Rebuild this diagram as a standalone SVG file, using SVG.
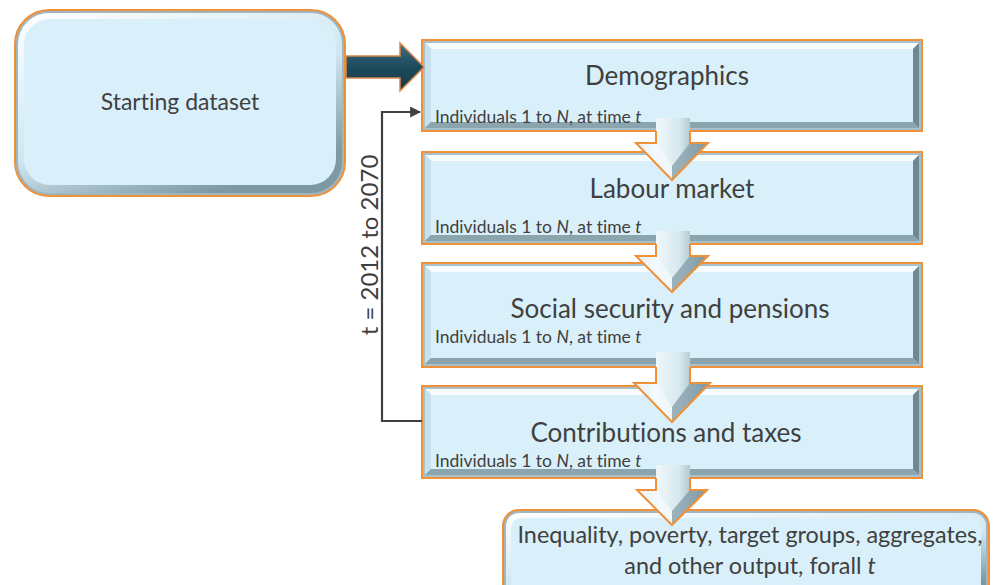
<svg xmlns="http://www.w3.org/2000/svg" width="998" height="585" viewBox="0 0 998 585">
  <defs>
    <style>
      .lbl { font-family: Lato, "Open Sans", "Liberation Sans", sans-serif; fill: #404040; font-variant-ligatures: none; }
      .big { font-size: 26px; text-anchor: middle; }
      .small { font-size: 17.5px; }
      .edge { fill: #a7c0ca; stroke: #f0913a; stroke-width: 2; }
      .bt { fill: #f6fcfe; }
      .bl { fill: #c4e1ed; }
      .br { fill: #6e8993; }
      .bb { fill: #8ba5af; }
      .face { fill: #d9f0fa; }
      .loop { fill: none; stroke: #404040; stroke-width: 2.2; }
      .barrow { fill: url(#arrowFill); }
      .hl { fill: #f4fafc; opacity: 0.8; }
      .hd { fill: #7f98a2; opacity: 0.7; }
      .barrowEdge { fill: none; stroke: #f0913a; stroke-width: 2; stroke-linejoin: miter; }
    </style>
    <linearGradient id="arrowFill" x1="0" y1="0" x2="1" y2="0">
      <stop offset="0" stop-color="#b9cdd5"/>
      <stop offset="0.3" stop-color="#eef7fa"/>
      <stop offset="0.6" stop-color="#d7e8ef"/>
      <stop offset="1" stop-color="#7f98a2"/>
    </linearGradient>
    <linearGradient id="ringFill" x1="0" y1="0" x2="0.6" y2="1">
      <stop offset="0" stop-color="#ffffff"/>
      <stop offset="0.6" stop-color="#cfe7f1"/>
      <stop offset="1" stop-color="#7f99a3"/>
    </linearGradient>
    <linearGradient id="tealFill" x1="0" y1="0" x2="0" y2="1">
      <stop offset="0" stop-color="#3e6f82"/>
      <stop offset="0.5" stop-color="#1d4a5c"/>
      <stop offset="1" stop-color="#163a48"/>
    </linearGradient>
    <marker id="tip" viewBox="0 0 10 10" refX="9" refY="5" markerWidth="5" markerHeight="5" orient="auto" markerUnits="strokeWidth">
      <path d="M0,0 L10,5 L0,10 Z" fill="#404040"/>
    </marker>
  </defs>

  <!-- Starting dataset -->
  <g id="starting-dataset">
    <rect x="15" y="10" width="330" height="186" rx="34" fill="#9db6c0" stroke="#f0913a" stroke-width="2"/>
    <rect x="18" y="13" width="324" height="180" rx="31" fill="url(#ringFill)"/>
    <rect x="24" y="19" width="312" height="166" rx="26" class="face"/>
    <text x="180" y="110" class="lbl" font-size="23" text-anchor="middle">Starting dataset</text>
  </g>

  <!-- Demographics -->
  <g id="demographics">
    <rect x="422" y="40" width="500" height="91" class="edge"/>
    <polygon points="425,43 919,43 913,49 431,49" class="bt"/>
    <polygon points="425,43 431,49 431,122 425,128" class="bl"/>
    <polygon points="919,43 919,128 913,122 913,49" class="br"/>
    <polygon points="425,128 919,128 913,122 431,122" class="bb"/>
    <rect x="431" y="49" width="482" height="73" class="face"/>
    <text x="667" y="85" class="lbl big">Demographics</text>
    <text x="435" y="123" class="lbl small">Individuals 1 to <tspan font-style="italic">N</tspan>, at time <tspan font-style="italic">t</tspan></text>
  </g>

  <!-- Labour market -->
  <g id="labour-market">
    <rect x="422" y="152" width="500" height="92" class="edge"/>
    <polygon points="425,155 919,155 913,161 431,161" class="bt"/>
    <polygon points="425,155 431,161 431,235 425,241" class="bl"/>
    <polygon points="919,155 919,241 913,235 913,161" class="br"/>
    <polygon points="425,241 919,241 913,235 431,235" class="bb"/>
    <rect x="431" y="161" width="482" height="74" class="face"/>
    <text x="672" y="198" class="lbl big">Labour market</text>
    <text x="435" y="233" class="lbl small">Individuals 1 to <tspan font-style="italic">N</tspan>, at time <tspan font-style="italic">t</tspan></text>
  </g>

  <!-- Social security and pensions -->
  <g id="social-security">
    <rect x="422" y="263" width="500" height="104" class="edge"/>
    <polygon points="425,266 919,266 913,272 431,272" class="bt"/>
    <polygon points="425,266 431,272 431,358 425,364" class="bl"/>
    <polygon points="919,266 919,364 913,358 913,272" class="br"/>
    <polygon points="425,364 919,364 913,358 431,358" class="bb"/>
    <rect x="431" y="272" width="482" height="86" class="face"/>
    <text x="670" y="318" class="lbl big">Social security and pensions</text>
    <text x="435" y="343" class="lbl small">Individuals 1 to <tspan font-style="italic">N</tspan>, at time <tspan font-style="italic">t</tspan></text>
  </g>

  <!-- Contributions and taxes -->
  <g id="contributions-taxes">
    <rect x="422" y="386" width="500" height="92" class="edge"/>
    <polygon points="425,389 919,389 913,395 431,395" class="bt"/>
    <polygon points="425,389 431,395 431,469 425,475" class="bl"/>
    <polygon points="919,389 919,475 913,469 913,395" class="br"/>
    <polygon points="425,475 919,475 913,469 431,469" class="bb"/>
    <rect x="431" y="395" width="482" height="74" class="face"/>
    <text x="666" y="442" class="lbl big">Contributions and taxes</text>
    <text x="435" y="467" class="lbl small">Individuals 1 to <tspan font-style="italic">N</tspan>, at time <tspan font-style="italic">t</tspan></text>
  </g>

  <!-- Output -->
  <g id="output">
    <rect x="503" y="510" width="486" height="95" rx="16" fill="#9db6c0" stroke="#f0913a" stroke-width="2"/>
    <rect x="506" y="513" width="480" height="89" rx="13" fill="url(#ringFill)"/>
    <rect x="511" y="518" width="470" height="80" rx="10" class="face"/>
    <text x="750" y="543" class="lbl" font-size="23.4" text-anchor="middle">Inequality, poverty, target groups, aggregates,</text>
    <text x="750" y="574" class="lbl" font-size="23.4" text-anchor="middle">and other output, forall <tspan font-style="italic">t</tspan></text>
  </g>

  <!-- Connectors -->
  <g id="connectors">
    <!-- start to demographics -->
    <polygon points="346,56 400,56 400,43 424,67 400,91 400,78 346,78" fill="url(#tealFill)" stroke="#d9884a" stroke-width="1.5" stroke-linejoin="miter"/>

    <!-- yearly loop back -->
    <polyline points="422,421 382,421 382,112 420,112" class="loop" marker-end="url(#tip)"/>
    <text x="378" y="245" class="lbl" font-size="24" text-anchor="middle" transform="rotate(-90 378 245)">t = 2012 to 2070</text>

    <!-- block arrows between stages: shaft, lit and shaded head faces, outline -->
    <g id="arrow-1">
      <polygon points="656,118 690,118 690,143 708,143 672,180 636,143 656,143" class="barrow"/>
      <polygon points="636,143 656,143 672,166 672,180" class="hl"/>
      <polygon points="708,143 690,143 672,166 672,180" class="hd"/>
      <path d="M656,131 V143 H636 L672,180 L708,143 H690 V131" class="barrowEdge"/>
    </g>
    <g id="arrow-2">
      <polygon points="656,231 690,231 690,256 708,256 672,292 636,256 656,256" class="barrow"/>
      <polygon points="636,256 656,256 672,278 672,292" class="hl"/>
      <polygon points="708,256 690,256 672,278 672,292" class="hd"/>
      <path d="M656,244 V256 H636 L672,292 L708,256 H690 V244" class="barrowEdge"/>
    </g>
    <g id="arrow-3">
      <polygon points="656,352 690,352 690,383 710,383 672,422 634,383 656,383" class="barrow"/>
      <polygon points="634,383 656,383 672,407 672,422" class="hl"/>
      <polygon points="710,383 690,383 672,407 672,422" class="hd"/>
      <path d="M656,367 V383 H634 L672,422 L710,383 H690 V367" class="barrowEdge"/>
    </g>
    <g id="arrow-4">
      <polygon points="656,465 690,465 690,490 707,490 672,525 637,490 656,490" class="barrow"/>
      <polygon points="637,490 656,490 672,511 672,525" class="hl"/>
      <polygon points="707,490 690,490 672,511 672,525" class="hd"/>
      <path d="M656,478 V490 H637 L672,525 L707,490 H690 V478" class="barrowEdge"/>
    </g>
  </g>
</svg>
